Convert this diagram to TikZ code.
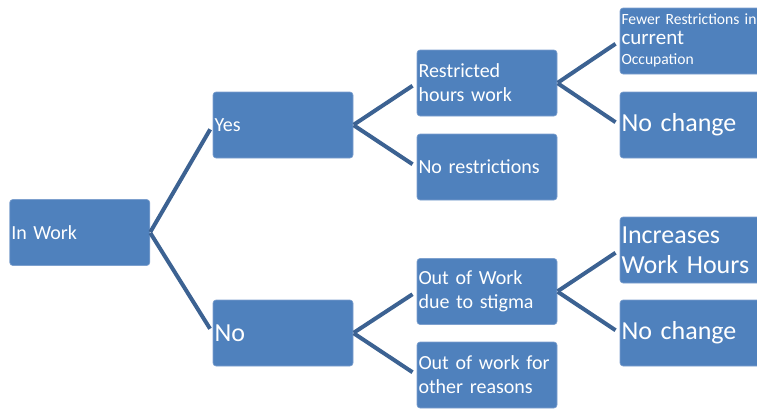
\documentclass[tikz,border=0pt]{standalone}
\usepackage{fontspec}
\setmainfont{Carlito}
\definecolor{boxblue}{RGB}{79,129,189}
\definecolor{boxedge}{RGB}{125,160,206}
\definecolor{linkblue}{RGB}{60,98,146}
\newcommand{\linestrut}{\rule[-6pt]{0pt}{19.5pt}}
\tikzset{
  treebox/.style={rectangle, rounded corners=3pt, fill=boxblue, draw=boxedge, line width=0.6pt,
    minimum width=140pt, minimum height=66pt, inner xsep=1.5pt, inner ysep=0pt,
    text width=137pt, align=left, text=white, anchor=center},
  fmid/.style={font=\fontsize{20}{24}\selectfont},
  fbig/.style={font=\fontsize{26}{30}\selectfont},
  fsmall/.style={font=\fontsize{15.6}{20}\selectfont},
  link/.style={draw=linkblue, line width=4pt, shorten >=5pt, shorten <=0.5pt}
}
\begin{document}
\begin{tikzpicture}[x=1pt,y=-1pt]
\useasboundingbox (0,0) rectangle (757,410);
\node[treebox,fmid] (inwork) at (79.75,232.5) {In Work};
\node[treebox,fmid] (yes) at (283,125) {Yes};
\node[treebox,fbig] (no) at (283,333) {No};
\node[treebox,fmid] (restr) at (487,83) {Restricted\\hours work};
\node[treebox,fmid] (norestr) at (487,167) {No restrictions};
\node[treebox,fmid] (stigma) at (487,291.5) {Out of Work\\due to stigma};
\node[treebox,fmid] (other) at (487,375) {Out of work for\\other reasons};
\node[treebox,fsmall] (fewer) at (690,41) {\linestrut\mbox{Fewer Restrictions in}\\\linestrut{\fontsize{21}{20}\selectfont current}\\\linestrut Occupation};
\node[treebox,fbig] (nochangeA) at (690,125) {No change};
\node[treebox,fbig] (incr) at (690,250) {Increases\\Work Hours};
\node[treebox,fbig] (nochangeB) at (690,333) {No change};
\draw[link] (inwork.east) -- (yes.west);
\draw[link] (inwork.east) -- (no.west);
\draw[link] (yes.east) -- (restr.west);
\draw[link] (yes.east) -- (norestr.west);
\draw[link] (no.east) -- (stigma.west);
\draw[link] (no.east) -- (other.west);
\draw[link] (restr.east) -- (fewer.west);
\draw[link] (restr.east) -- (nochangeA.west);
\draw[link] (stigma.east) -- (incr.west);
\draw[link] (stigma.east) -- (nochangeB.west);
\end{tikzpicture}
\end{document}
